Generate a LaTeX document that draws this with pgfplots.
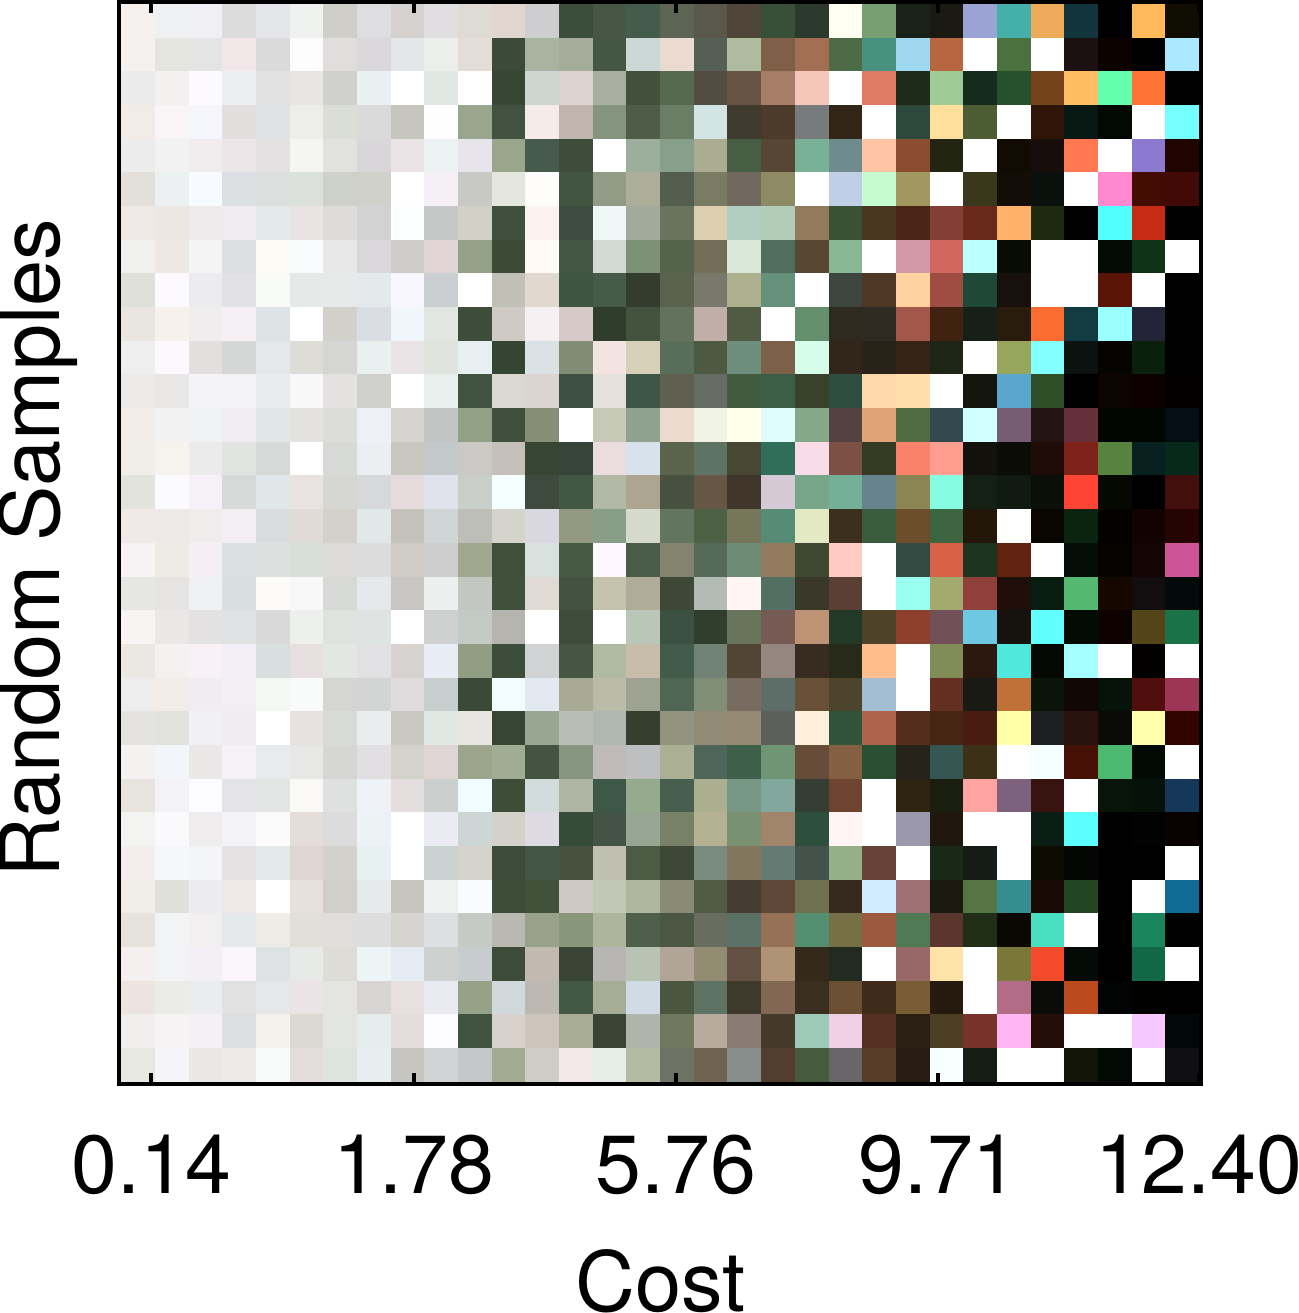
\documentclass[border=0pt]{standalone}
\usepackage{fontspec}
\setmainfont{TeX Gyre Heros}
\usepackage{pgfplots}
\pgfplotsset{compat=1.18}
\begin{document}
\begin{tikzpicture}
\useasboundingbox (-119.5bp,-229bp) rectangle (1179.5bp,1084bp);
\begin{axis}[
  at={(0,0)}, anchor=south west,
  scale only axis, width=1082bp, height=1082bp,
  xmin=-0.56, xmax=31.57, ymin=-0.56, ymax=31.56, y dir=reverse,
  axis line style={line width=4bp}, tick style={line width=4bp, black},
  major tick length=11bp, tick align=inside, xtick pos=both,
  xtick={0.39,8.19,15.97,23.76,31.5}, ytick=\empty,
  xticklabels={0.14,1.78,5.76,9.71,12.40},
  tick label style={font=\fontsize{82.5bp}{90bp}\selectfont},
  label style={font=\fontsize{83bp}{90bp}\selectfont},
  xticklabel shift=47bp, xlabel shift=48bp, ylabel shift=38bp,
  ylabel style={xshift=-5bp},
  xlabel={Cost}, ylabel={Random Samples},
  axis on top,
]
\addplot[matrix plot*, mesh/cols=32, mesh/color input=explicit, point meta=explicit symbolic]
 table[meta=c, row sep=\\] {x y c\\
0 0 HTML=F4F1EF\\1 0 HTML=EEF0F1\\2 0 HTML=F0EFF3\\3 0 HTML=DCDCDC\\4 0 HTML=E5E6E9\\5 0 HTML=F0F2EF\\6 0 HTML=CFCEC9\\7 0 HTML=DEDEE0\\8 0 HTML=D4D1CE\\9 0 HTML=E0DEE1\\10 0 HTML=DDDBD3\\11 0 HTML=E0D5CF\\12 0 HTML=CECDCF\\13 0 HTML=3B4E3B\\14 0 HTML=465843\\15 0 HTML=455C4C\\16 0 HTML=5C6553\\17 0 HTML=5A584B\\18 0 HTML=504539\\19 0 HTML=395038\\20 0 HTML=2C3A2E\\21 0 HTML=FFFFF2\\22 0 HTML=76A072\\23 0 HTML=1A2118\\24 0 HTML=1A1A12\\25 0 HTML=9BA3D5\\26 0 HTML=44B0A9\\27 0 HTML=EEAB5C\\28 0 HTML=12343C\\29 0 HTML=000000\\30 0 HTML=FFB95A\\31 0 HTML=100E02\\
0 1 HTML=F5F1EE\\1 1 HTML=E5E5E0\\2 1 HTML=E5E4E5\\3 1 HTML=F1E7E8\\4 1 HTML=DADADA\\5 1 HTML=FDFDFD\\6 1 HTML=DFDEDC\\7 1 HTML=DAD8DA\\8 1 HTML=E3E7EA\\9 1 HTML=EBEEEA\\10 1 HTML=E4DCD7\\11 1 HTML=3C4A38\\12 1 HTML=A8B4A0\\13 1 HTML=A5AD9A\\14 1 HTML=435742\\15 1 HTML=CBD8D6\\16 1 HTML=EBDAD0\\17 1 HTML=565F55\\18 1 HTML=B0BCA0\\19 1 HTML=7F5F48\\20 1 HTML=A26E54\\21 1 HTML=4E6B48\\22 1 HTML=48907F\\23 1 HTML=9FD7EE\\24 1 HTML=B8663F\\25 1 HTML=FFFFFF\\26 1 HTML=4B713E\\27 1 HTML=FFFFFF\\28 1 HTML=1B1110\\29 1 HTML=0C0300\\30 1 HTML=000000\\31 1 HTML=A9E8FF\\
0 2 HTML=EBEBEB\\1 2 HTML=F3F0F0\\2 2 HTML=FCFAFD\\3 2 HTML=EDEEF0\\4 2 HTML=E1E2E1\\5 2 HTML=E9E5E3\\6 2 HTML=D0D1CC\\7 2 HTML=E9F0F1\\8 2 HTML=FFFFFF\\9 2 HTML=E1E8E3\\10 2 HTML=FFFFFF\\11 2 HTML=364734\\12 2 HTML=CFD6D2\\13 2 HTML=DCD3D0\\14 2 HTML=A8AF9E\\15 2 HTML=43513C\\16 2 HTML=566A50\\17 2 HTML=524D40\\18 2 HTML=675244\\19 2 HTML=A67E68\\20 2 HTML=F7C6BB\\21 2 HTML=FFFFFF\\22 2 HTML=DE7A66\\23 2 HTML=1C2A17\\24 2 HTML=9ECC94\\25 2 HTML=152B1B\\26 2 HTML=27502D\\27 2 HTML=74431A\\28 2 HTML=FFBD62\\29 2 HTML=62FDAD\\30 2 HTML=FF7433\\31 2 HTML=000000\\
0 3 HTML=F2ECE9\\1 3 HTML=F9F5F6\\2 3 HTML=F5F6FB\\3 3 HTML=E2DEDD\\4 3 HTML=E1E2E6\\5 3 HTML=EDEEE9\\6 3 HTML=DBDDD7\\7 3 HTML=DADADA\\8 3 HTML=C6C6BF\\9 3 HTML=FEFDFF\\10 3 HTML=99A58C\\11 3 HTML=415340\\12 3 HTML=F5ECEA\\13 3 HTML=BFB5AE\\14 3 HTML=84947E\\15 3 HTML=4E5C48\\16 3 HTML=697E65\\17 3 HTML=D3E4E4\\18 3 HTML=403A2F\\19 3 HTML=4C3A2B\\20 3 HTML=777B7C\\21 3 HTML=332418\\22 3 HTML=FFFFFF\\23 3 HTML=2D483C\\24 3 HTML=FEE09C\\25 3 HTML=4C5D33\\26 3 HTML=FFFFFF\\27 3 HTML=2E1507\\28 3 HTML=071812\\29 3 HTML=020802\\30 3 HTML=FFFFFF\\31 3 HTML=76FFFF\\
0 4 HTML=ECECEC\\1 4 HTML=F2F2F2\\2 4 HTML=F0EBEC\\3 4 HTML=EDE6E8\\4 4 HTML=E3E1E2\\5 4 HTML=F5F5F3\\6 4 HTML=E1E2DD\\7 4 HTML=D8D6D8\\8 4 HTML=EBE4E6\\9 4 HTML=EBF2F1\\10 4 HTML=E7E5EB\\11 4 HTML=9AA68C\\12 4 HTML=475A4E\\13 4 HTML=404C3A\\14 4 HTML=FFFFFF\\15 4 HTML=9CAE9C\\16 4 HTML=88A08A\\17 4 HTML=ACAC92\\18 4 HTML=475E45\\19 4 HTML=574633\\20 4 HTML=78B098\\21 4 HTML=708B8D\\22 4 HTML=FFC4A4\\23 4 HTML=8B4C30\\24 4 HTML=232513\\25 4 HTML=FFFFFF\\26 4 HTML=120B04\\27 4 HTML=170D0B\\28 4 HTML=FF7851\\29 4 HTML=FFFFFF\\30 4 HTML=8B7AD0\\31 4 HTML=200400\\
0 5 HTML=E3E0DB\\1 5 HTML=ECF0F1\\2 5 HTML=F7FAFF\\3 5 HTML=DCE0E2\\4 5 HTML=DBE0DF\\5 5 HTML=DCE0DB\\6 5 HTML=CED0CA\\7 5 HTML=D1D1CC\\8 5 HTML=FFFFFF\\9 5 HTML=F5EFF6\\10 5 HTML=C8C9C4\\11 5 HTML=E4E6DE\\12 5 HTML=FFFDFB\\13 5 HTML=425540\\14 5 HTML=929B86\\15 5 HTML=ACAE99\\16 5 HTML=535E4E\\17 5 HTML=797C63\\18 5 HTML=71685E\\19 5 HTML=8D8A64\\20 5 HTML=FFFFFF\\21 5 HTML=C0CFE5\\22 5 HTML=C6FBCF\\23 5 HTML=A1985F\\24 5 HTML=FFFFFF\\25 5 HTML=3A371B\\26 5 HTML=140C06\\27 5 HTML=0A110D\\28 5 HTML=FFFFFF\\29 5 HTML=FF88CF\\30 5 HTML=430C03\\31 5 HTML=410A06\\
0 6 HTML=EEE9E6\\1 6 HTML=EDE7E2\\2 6 HTML=EEEBEC\\3 6 HTML=EEECF1\\4 6 HTML=E4E9EB\\5 6 HTML=E9E4E3\\6 6 HTML=DEDCD8\\7 6 HTML=D2D2D3\\8 6 HTML=FBFFFF\\9 6 HTML=C6C8C7\\10 6 HTML=D2D1C8\\11 6 HTML=3E4F3C\\12 6 HTML=FCF3F1\\13 6 HTML=3E4C41\\14 6 HTML=EFF8F7\\15 6 HTML=A1AA9B\\16 6 HTML=68745E\\17 6 HTML=DBCFB0\\18 6 HTML=B2CDC2\\19 6 HTML=B1CDB7\\20 6 HTML=917B5A\\21 6 HTML=3A5133\\22 6 HTML=483621\\23 6 HTML=4A2619\\24 6 HTML=833F33\\25 6 HTML=692A1B\\26 6 HTML=FFB169\\27 6 HTML=1F2811\\28 6 HTML=000000\\29 6 HTML=52FFFF\\30 6 HTML=C62B16\\31 6 HTML=000000\\
0 7 HTML=F0F0EE\\1 7 HTML=EEE8E2\\2 7 HTML=F4F4F5\\3 7 HTML=DBDFE2\\4 7 HTML=FCFBF6\\5 7 HTML=F8FCFC\\6 7 HTML=E8E8E9\\7 7 HTML=D9D7DA\\8 7 HTML=CDCCC9\\9 7 HTML=E1D6D5\\10 7 HTML=96A189\\11 7 HTML=3D4A36\\12 7 HTML=FFFAF6\\13 7 HTML=445744\\14 7 HTML=D2DAD3\\15 7 HTML=7D9176\\16 7 HTML=53634C\\17 7 HTML=736C57\\18 7 HTML=D9E8D8\\19 7 HTML=516D5E\\20 7 HTML=584733\\21 7 HTML=88B896\\22 7 HTML=FFFFFF\\23 7 HTML=D198AA\\24 7 HTML=D1675E\\25 7 HTML=BCFFFF\\26 7 HTML=090C05\\27 7 HTML=FFFFFF\\28 7 HTML=FFFFFF\\29 7 HTML=040B05\\30 7 HTML=0F3317\\31 7 HTML=FFFFFF\\
0 8 HTML=E0E0DB\\1 8 HTML=FCFAFF\\2 8 HTML=ECECEE\\3 8 HTML=E2E2E5\\4 8 HTML=F8FAF8\\5 8 HTML=E5E9E7\\6 8 HTML=E7EAE8\\7 8 HTML=E4E9EC\\8 8 HTML=F8F6FF\\9 8 HTML=CBCFD1\\10 8 HTML=FFFFFF\\11 8 HTML=C0C0B6\\12 8 HTML=E1D8D0\\13 8 HTML=3E5541\\14 8 HTML=465C49\\15 8 HTML=343D2D\\16 8 HTML=5A624D\\17 8 HTML=78786B\\18 8 HTML=ACB08C\\19 8 HTML=65917A\\20 8 HTML=FFFFFF\\21 8 HTML=3C463E\\22 8 HTML=4F3726\\23 8 HTML=FFD3A0\\24 8 HTML=9E4B42\\25 8 HTML=1E4838\\26 8 HTML=17100D\\27 8 HTML=FFFFFF\\28 8 HTML=FFFFFF\\29 8 HTML=591405\\30 8 HTML=FFFFFF\\31 8 HTML=000000\\
0 9 HTML=E9E5E1\\1 9 HTML=F6F1EC\\2 9 HTML=EFEDEE\\3 9 HTML=F5F0F4\\4 9 HTML=DDE3E5\\5 9 HTML=FFFFFF\\6 9 HTML=D1D0CB\\7 9 HTML=DADDE1\\8 9 HTML=F0F6FC\\9 9 HTML=E2E6E0\\10 9 HTML=3D4D3A\\11 9 HTML=CFCBC4\\12 9 HTML=F6F0F3\\13 9 HTML=D6C9C8\\14 9 HTML=303C2C\\15 9 HTML=44533E\\16 9 HTML=63725C\\17 9 HTML=C2AEA8\\18 9 HTML=515A42\\19 9 HTML=FFFFFF\\20 9 HTML=64906E\\21 9 HTML=2F2A20\\22 9 HTML=2F2B22\\23 9 HTML=A3574B\\24 9 HTML=41210F\\25 9 HTML=172018\\26 9 HTML=291C0C\\27 9 HTML=FA6C30\\28 9 HTML=123B42\\29 9 HTML=9AFFFF\\30 9 HTML=232437\\31 9 HTML=000000\\
0 10 HTML=EFEFEF\\1 10 HTML=FDF8FD\\2 10 HTML=E3DFDF\\3 10 HTML=D5D7D6\\4 10 HTML=E4E8EA\\5 10 HTML=DDDCD6\\6 10 HTML=D5D5D3\\7 10 HTML=EAF0F0\\8 10 HTML=EAE4E7\\9 10 HTML=DFE4DE\\10 10 HTML=E8EFF1\\11 10 HTML=344632\\12 10 HTML=DBE2E5\\13 10 HTML=818C76\\14 10 HTML=F3E4E1\\15 10 HTML=D6D0B8\\16 10 HTML=596E58\\17 10 HTML=4D5940\\18 10 HTML=6C8E7A\\19 10 HTML=7C6148\\20 10 HTML=D6FDEA\\21 10 HTML=32261A\\22 10 HTML=282218\\23 10 HTML=352415\\24 10 HTML=1D2616\\25 10 HTML=FFFFFF\\26 10 HTML=97A65C\\27 10 HTML=84FFFF\\28 10 HTML=0B1210\\29 10 HTML=050401\\30 10 HTML=0B200C\\31 10 HTML=000000\\
0 11 HTML=EBEAE8\\1 11 HTML=E8E7E5\\2 11 HTML=F4F3F6\\3 11 HTML=F2F2F7\\4 11 HTML=E7EBEE\\5 11 HTML=F8F8F8\\6 11 HTML=E3E2E0\\7 11 HTML=CFD0CB\\8 11 HTML=FFFFFF\\9 11 HTML=E8F0ED\\10 11 HTML=405240\\11 11 HTML=DBD7D1\\12 11 HTML=DCD4CF\\13 11 HTML=3C4F42\\14 11 HTML=E5E1DA\\15 11 HTML=3E5646\\16 11 HTML=5F6050\\17 11 HTML=666C63\\18 11 HTML=425B40\\19 11 HTML=3C5E46\\20 11 HTML=38412B\\21 11 HTML=304E40\\22 11 HTML=FFD7A8\\23 11 HTML=FFDEAB\\24 11 HTML=FFFFFF\\25 11 HTML=14150C\\26 11 HTML=5AA6CD\\27 11 HTML=2F4F29\\28 11 HTML=000000\\29 11 HTML=0C0400\\30 11 HTML=0C0100\\31 11 HTML=040000\\
0 12 HTML=F1ECE7\\1 12 HTML=F3F2F3\\2 12 HTML=EFF3F6\\3 12 HTML=F1EDF3\\4 12 HTML=E1E6E8\\5 12 HTML=E3E2DF\\6 12 HTML=DCDCD8\\7 12 HTML=EDF0F6\\8 12 HTML=D6D3D1\\9 12 HTML=C1C5C3\\10 12 HTML=92A186\\11 12 HTML=3F503C\\12 12 HTML=878E76\\13 12 HTML=FFFFFF\\14 12 HTML=C6C9B5\\15 12 HTML=8FA28D\\16 12 HTML=EBDACD\\17 12 HTML=F0F2E3\\18 12 HTML=FFFFE9\\19 12 HTML=DFFBFB\\20 12 HTML=85A888\\21 12 HTML=53423F\\22 12 HTML=E0A378\\23 12 HTML=516B42\\24 12 HTML=34494E\\25 12 HTML=D2FFFF\\26 12 HTML=765D73\\27 12 HTML=241412\\28 12 HTML=653039\\29 12 HTML=030502\\30 12 HTML=020603\\31 12 HTML=060E15\\
0 13 HTML=F1EDE8\\1 13 HTML=F6F2EC\\2 13 HTML=EBEBEC\\3 13 HTML=E2E4E2\\4 13 HTML=D7D9D8\\5 13 HTML=FFFFFF\\6 13 HTML=D7D9D6\\7 13 HTML=EBEFF2\\8 13 HTML=C9C5BF\\9 13 HTML=C4C9CC\\10 13 HTML=CCC8C6\\11 13 HTML=C5C0BA\\12 13 HTML=374633\\13 13 HTML=36443A\\14 13 HTML=EBDCDD\\15 13 HTML=D8E2EC\\16 13 HTML=5A634C\\17 13 HTML=5E7364\\18 13 HTML=474833\\19 13 HTML=316E59\\20 13 HTML=F8DDE9\\21 13 HTML=7C5045\\22 13 HTML=353A23\\23 13 HTML=FA826B\\24 13 HTML=FF9E8E\\25 13 HTML=12110B\\26 13 HTML=0A0C05\\27 13 HTML=1F0B08\\28 13 HTML=7F231A\\29 13 HTML=578240\\30 13 HTML=082020\\31 13 HTML=062919\\
0 14 HTML=E3E3DE\\1 14 HTML=FBFAFF\\2 14 HTML=F5F1F7\\3 14 HTML=D5D9D8\\4 14 HTML=E0E7E9\\5 14 HTML=E8E3E0\\6 14 HTML=D6D7D2\\7 14 HTML=D7D8DA\\8 14 HTML=E6DCDD\\9 14 HTML=E0E3EB\\10 14 HTML=CACEC8\\11 14 HTML=F6FFFF\\12 14 HTML=3F4A3F\\13 14 HTML=425843\\14 14 HTML=B2B8A6\\15 14 HTML=ACA691\\16 14 HTML=485040\\17 14 HTML=675645\\18 14 HTML=40362A\\19 14 HTML=D4C9D4\\20 14 HTML=78A688\\21 14 HTML=74B098\\22 14 HTML=66838E\\23 14 HTML=8B8554\\24 14 HTML=85FBE2\\25 14 HTML=142013\\26 14 HTML=101A12\\27 14 HTML=0A0F07\\28 14 HTML=FF4335\\29 14 HTML=060802\\30 14 HTML=000000\\31 14 HTML=420F0D\\
0 15 HTML=EFEAE8\\1 15 HTML=ECE9E7\\2 15 HTML=F1ECEC\\3 15 HTML=F2EEF2\\4 15 HTML=D8DCDD\\5 15 HTML=E0DBD7\\6 15 HTML=D3D1C9\\7 15 HTML=E1E9E8\\8 15 HTML=C5C2BC\\9 15 HTML=D0D5D5\\10 15 HTML=BDBEB8\\11 15 HTML=D4D4CC\\12 15 HTML=D9D7DF\\13 15 HTML=939A80\\14 15 HTML=899E87\\15 15 HTML=D5DACD\\16 15 HTML=62765F\\17 15 HTML=4B6045\\18 15 HTML=747559\\19 15 HTML=568C75\\20 15 HTML=E3E9C3\\21 15 HTML=3C2F1E\\22 15 HTML=3B5C3C\\23 15 HTML=6D4E2A\\24 15 HTML=3D6640\\25 15 HTML=23170A\\26 15 HTML=FFFFFF\\27 15 HTML=090602\\28 15 HTML=0B2410\\29 15 HTML=040200\\30 15 HTML=120200\\31 15 HTML=260402\\
0 16 HTML=F7F2F3\\1 16 HTML=EEEBE5\\2 16 HTML=F5EFF3\\3 16 HTML=DBE0E1\\4 16 HTML=DDE0DE\\5 16 HTML=D8DFDA\\6 16 HTML=DCDBD7\\7 16 HTML=DCDCDC\\8 16 HTML=CFCCC6\\9 16 HTML=CDCECD\\10 16 HTML=A1A88F\\11 16 HTML=3E4F3A\\12 16 HTML=D9E1DF\\13 16 HTML=465943\\14 16 HTML=FDF6FF\\15 16 HTML=485C47\\16 16 HTML=848370\\17 16 HTML=566A5A\\18 16 HTML=6E8C75\\19 16 HTML=927A5E\\20 16 HTML=3F4830\\21 16 HTML=FFCBC3\\22 16 HTML=FFFFFF\\23 16 HTML=324A41\\24 16 HTML=D76246\\25 16 HTML=1C3420\\26 16 HTML=5F2310\\27 16 HTML=FFFFFF\\28 16 HTML=040D08\\29 16 HTML=050200\\30 16 HTML=140403\\31 16 HTML=CE5498\\
0 17 HTML=E6E7E2\\1 17 HTML=E5E4E2\\2 17 HTML=EFF1F4\\3 17 HTML=D9DFDF\\4 17 HTML=FCFBF7\\5 17 HTML=F8F8F8\\6 17 HTML=D7D9D6\\7 17 HTML=E5E9EC\\8 17 HTML=C8C6C2\\9 17 HTML=EBEFEE\\10 17 HTML=C2C7C2\\11 17 HTML=40513B\\12 17 HTML=E0D9D4\\13 17 HTML=44533F\\14 17 HTML=C5C2AE\\15 17 HTML=AFAC9A\\16 17 HTML=3E4836\\17 17 HTML=B3BCB4\\18 17 HTML=FFF5F5\\19 17 HTML=536E63\\20 17 HTML=3A3828\\21 17 HTML=5A3F34\\22 17 HTML=FFFFFF\\23 17 HTML=9AFFEF\\24 17 HTML=A3AA6E\\25 17 HTML=903F3A\\26 17 HTML=1F0E09\\27 17 HTML=091C10\\28 17 HTML=55B870\\29 17 HTML=160800\\30 17 HTML=120D0E\\31 17 HTML=030A09\\
0 18 HTML=F8F4F4\\1 18 HTML=E9E8E6\\2 18 HTML=E3E1E2\\3 18 HTML=DEE2E3\\4 18 HTML=D9D9D9\\5 18 HTML=EEF0ED\\6 18 HTML=E0E2DE\\7 18 HTML=DFE3E2\\8 18 HTML=FFFFFF\\9 18 HTML=CFD1D0\\10 18 HTML=C4CAC5\\11 18 HTML=B5B4AE\\12 18 HTML=FFFFFF\\13 18 HTML=3D4B38\\14 18 HTML=FFFFFF\\15 18 HTML=BAC6B8\\16 18 HTML=3B5141\\17 18 HTML=323E2D\\18 18 HTML=68755A\\19 18 HTML=765B54\\20 18 HTML=BD9275\\21 18 HTML=233927\\22 18 HTML=4E4228\\23 18 HTML=8C402D\\24 18 HTML=715157\\25 18 HTML=6EC8E2\\26 18 HTML=16120E\\27 18 HTML=62FFFF\\28 18 HTML=040B05\\29 18 HTML=0D0200\\30 18 HTML=544518\\31 18 HTML=197346\\
0 19 HTML=EBE7E3\\1 19 HTML=F5F1F0\\2 19 HTML=F8F2F7\\3 19 HTML=F2F0F6\\4 19 HTML=D9DFDE\\5 19 HTML=E8E0E0\\6 19 HTML=E2E7E3\\7 19 HTML=E1E1E4\\8 19 HTML=D6D3D0\\9 19 HTML=E8ECF5\\10 19 HTML=929E84\\11 19 HTML=3C4D3A\\12 19 HTML=D1D2D4\\13 19 HTML=465541\\14 19 HTML=B0BAA3\\15 19 HTML=C8BCAB\\16 19 HTML=435B4A\\17 19 HTML=718374\\18 19 HTML=524535\\19 19 HTML=958680\\20 19 HTML=382B20\\21 19 HTML=272919\\22 19 HTML=FFBC8C\\23 19 HTML=FFFFFF\\24 19 HTML=828C56\\25 19 HTML=2D1810\\26 19 HTML=50E8DC\\27 19 HTML=060804\\28 19 HTML=A5FFFF\\29 19 HTML=FFFFFF\\30 19 HTML=020100\\31 19 HTML=FFFFFF\\
0 20 HTML=EDEDED\\1 20 HTML=F1ECE7\\2 20 HTML=F0EDF1\\3 20 HTML=F3EEF2\\4 20 HTML=F5F7F2\\5 20 HTML=F9FBFA\\6 20 HTML=D5D6D1\\7 20 HTML=D3D5D4\\8 20 HTML=E0DCDE\\9 20 HTML=C6CFCE\\10 20 HTML=3A4A37\\11 20 HTML=F2FCFF\\12 20 HTML=E2E9F1\\13 20 HTML=A8AA95\\14 20 HTML=BABCA9\\15 20 HTML=9EA291\\16 20 HTML=4F6655\\17 20 HTML=7F8E74\\18 20 HTML=7A6B60\\19 20 HTML=5D6E69\\20 20 HTML=685036\\21 20 HTML=4C442C\\22 20 HTML=A4BDD1\\23 20 HTML=FFFFFF\\24 20 HTML=632F20\\25 20 HTML=191A14\\26 20 HTML=C07138\\27 20 HTML=0B1408\\28 20 HTML=110806\\29 20 HTML=071208\\30 20 HTML=4F0F0C\\31 20 HTML=9D3656\\
0 21 HTML=E4E3DF\\1 21 HTML=E2E2DD\\2 21 HTML=F1F1F5\\3 21 HTML=F0ECF0\\4 21 HTML=FFFFFF\\5 21 HTML=E8E1E0\\6 21 HTML=D8DBD8\\7 21 HTML=EBECEE\\8 21 HTML=C9C8C3\\9 21 HTML=DFE8E3\\10 21 HTML=E8E6E1\\11 21 HTML=364632\\12 21 HTML=99A792\\13 21 HTML=BABDB5\\14 21 HTML=AEB7B0\\15 21 HTML=353F2E\\16 21 HTML=929480\\17 21 HTML=918A74\\18 21 HTML=958A74\\19 21 HTML=5C5F59\\20 21 HTML=FFF0DC\\21 21 HTML=30533A\\22 21 HTML=AE634B\\23 21 HTML=552D1E\\24 21 HTML=472515\\25 21 HTML=481C10\\26 21 HTML=FFFFA8\\27 21 HTML=1D1F21\\28 21 HTML=2A120E\\29 21 HTML=0A0A08\\30 21 HTML=FFFFAC\\31 21 HTML=300500\\
0 22 HTML=F3F2F0\\1 22 HTML=F2F6FB\\2 22 HTML=E9E8E6\\3 22 HTML=F5F1F5\\4 22 HTML=E8EBEE\\5 22 HTML=E7E8E6\\6 22 HTML=D6D6D4\\7 22 HTML=E1DFE2\\8 22 HTML=D3D2CD\\9 22 HTML=DFD5D4\\10 22 HTML=9CA58C\\11 22 HTML=A0AC94\\12 22 HTML=435440\\13 22 HTML=879680\\14 22 HTML=C0BAB8\\15 22 HTML=BEBFC1\\16 22 HTML=ABB095\\17 22 HTML=50655A\\18 22 HTML=3E604B\\19 22 HTML=6F9575\\20 22 HTML=684C3A\\21 22 HTML=845F42\\22 22 HTML=2A5033\\23 22 HTML=26231A\\24 22 HTML=345753\\25 22 HTML=3C3018\\26 22 HTML=FFFFFF\\27 22 HTML=F5FFFF\\28 22 HTML=461208\\29 22 HTML=4BB96F\\30 22 HTML=030A05\\31 22 HTML=FFFFFF\\
0 23 HTML=E7E3DF\\1 23 HTML=F3F3F7\\2 23 HTML=FCFBFF\\3 23 HTML=E4E4E6\\4 23 HTML=E3E4E4\\5 23 HTML=FAF9F5\\6 23 HTML=DEE1E0\\7 23 HTML=EFF3F7\\8 23 HTML=E5DEDE\\9 23 HTML=CBCFCD\\10 23 HTML=F1FCFF\\11 23 HTML=3D4D38\\12 23 HTML=D3DCDC\\13 23 HTML=AFB5A2\\14 23 HTML=3E5848\\15 23 HTML=96AA8E\\16 23 HTML=485F50\\17 23 HTML=ACAE90\\18 23 HTML=769884\\19 23 HTML=82A89E\\20 23 HTML=353E33\\21 23 HTML=6E4330\\22 23 HTML=FFFFFF\\23 23 HTML=2F2412\\24 23 HTML=1A1E0E\\25 23 HTML=FFA4A0\\26 23 HTML=7E617D\\27 23 HTML=37140F\\28 23 HTML=FFFFFF\\29 23 HTML=081409\\30 23 HTML=051109\\31 23 HTML=14375A\\
0 24 HTML=F3F3F1\\1 24 HTML=FAFAFC\\2 24 HTML=EEECEC\\3 24 HTML=F4F3F8\\4 24 HTML=FBFBFB\\5 24 HTML=E5DDD8\\6 24 HTML=DCDCDC\\7 24 HTML=EDF2F5\\8 24 HTML=FFFFFF\\9 24 HTML=EBEBF4\\10 24 HTML=CDD6D4\\11 24 HTML=D4D1CA\\12 24 HTML=DEDAE3\\13 24 HTML=374C38\\14 24 HTML=435346\\15 24 HTML=96A693\\16 24 HTML=768168\\17 24 HTML=B5B294\\18 24 HTML=799170\\19 24 HTML=A1846A\\20 24 HTML=2D503C\\21 24 HTML=FFF4F6\\22 24 HTML=FFFFFF\\23 24 HTML=9A98AA\\24 24 HTML=20180E\\25 24 HTML=FFFFFF\\26 24 HTML=FFFFFF\\27 24 HTML=0B1E15\\28 24 HTML=5CFFFF\\29 24 HTML=000000\\30 24 HTML=020202\\31 24 HTML=0A0200\\
0 25 HTML=F3EDED\\1 25 HTML=F5F7FA\\2 25 HTML=F4F5F9\\3 25 HTML=E5E2E3\\4 25 HTML=E4E9EA\\5 25 HTML=DFD6D3\\6 25 HTML=D2D1CC\\7 25 HTML=E8F1F2\\8 25 HTML=FFFFFF\\9 25 HTML=CBD3D2\\10 25 HTML=D4D4CC\\11 25 HTML=3C4C38\\12 25 HTML=435645\\13 25 HTML=46523E\\14 25 HTML=BFC0B0\\15 25 HTML=4C5B44\\16 25 HTML=3D4936\\17 25 HTML=788B7E\\18 25 HTML=82765E\\19 25 HTML=647A72\\20 25 HTML=43524B\\21 25 HTML=93B089\\22 25 HTML=664238\\23 25 HTML=FFFFFF\\24 25 HTML=182A17\\25 25 HTML=151B15\\26 25 HTML=FFFFFF\\27 25 HTML=0D0C02\\28 25 HTML=040604\\29 25 HTML=000000\\30 25 HTML=000000\\31 25 HTML=FFFFFF\\
0 26 HTML=F1EDE8\\1 26 HTML=E0E0DA\\2 26 HTML=ECEBEF\\3 26 HTML=EEE8E8\\4 26 HTML=FFFFFF\\5 26 HTML=E8E0DD\\6 26 HTML=D0CFC9\\7 26 HTML=E7EAEA\\8 26 HTML=C8C5BF\\9 26 HTML=EDF2F1\\10 26 HTML=F8FCFF\\11 26 HTML=3D4D38\\12 26 HTML=405239\\13 26 HTML=D0C8C5\\14 26 HTML=C2C8B6\\15 26 HTML=AFB89E\\16 26 HTML=8A8B74\\17 26 HTML=525C45\\18 26 HTML=453C32\\19 26 HTML=5F4838\\20 26 HTML=6F704D\\21 26 HTML=362A1E\\22 26 HTML=D2ECFF\\23 26 HTML=9E7072\\24 26 HTML=1A1A10\\25 26 HTML=557643\\26 26 HTML=348E90\\27 26 HTML=1A0A06\\28 26 HTML=234522\\29 26 HTML=000000\\30 26 HTML=FFFFFF\\31 26 HTML=106C95\\
0 27 HTML=E6E3DF\\1 27 HTML=F1F3F4\\2 27 HTML=F1EFEF\\3 27 HTML=E4E8EB\\4 27 HTML=EDECE6\\5 27 HTML=E2DFDB\\6 27 HTML=DFDEDA\\7 27 HTML=DDDDDD\\8 27 HTML=D5D4D1\\9 27 HTML=DCE0E2\\10 27 HTML=C5CAC4\\11 27 HTML=B9B9B1\\12 27 HTML=9AA18B\\13 27 HTML=889679\\14 27 HTML=AEB59D\\15 27 HTML=4E5F4C\\16 27 HTML=4C5743\\17 27 HTML=686D60\\18 27 HTML=5C7165\\19 27 HTML=977156\\20 27 HTML=558F72\\21 27 HTML=767047\\22 27 HTML=9C593E\\23 27 HTML=4F7A53\\24 27 HTML=5B362F\\25 27 HTML=202D17\\26 27 HTML=0A0802\\27 27 HTML=48E0C0\\28 27 HTML=FFFFFF\\29 27 HTML=000000\\30 27 HTML=18855C\\31 27 HTML=000000\\
0 28 HTML=F4F0EF\\1 28 HTML=F1F3F4\\2 28 HTML=F2F0F5\\3 28 HTML=FAF6FC\\4 28 HTML=DFE2E2\\5 28 HTML=E8EAE8\\6 28 HTML=DDDCD6\\7 28 HTML=ECF4F5\\8 28 HTML=E4EBF2\\9 28 HTML=CFD1D0\\10 28 HTML=C7CCCE\\11 28 HTML=3C4C38\\12 28 HTML=C2B9B0\\13 28 HTML=3A4434\\14 28 HTML=B8B6B4\\15 28 HTML=B8C3B4\\16 28 HTML=B0A596\\17 28 HTML=928C72\\18 28 HTML=645042\\19 28 HTML=B09274\\20 28 HTML=342A1C\\21 28 HTML=222B20\\22 28 HTML=FFFFFF\\23 28 HTML=986868\\24 28 HTML=FDE3A8\\25 28 HTML=FFFFFF\\26 28 HTML=7A7838\\27 28 HTML=F34B2C\\28 28 HTML=040B06\\29 28 HTML=000000\\30 28 HTML=126747\\31 28 HTML=FFFFFF\\
0 29 HTML=EDE4E2\\1 29 HTML=EBEBE7\\2 29 HTML=EBECEE\\3 29 HTML=E1E1E1\\4 29 HTML=E6E7E9\\5 29 HTML=EBE3E5\\6 29 HTML=E4E5E0\\7 29 HTML=D8D4D4\\8 29 HTML=E9E0E2\\9 29 HTML=E9EAF0\\10 29 HTML=96A288\\11 29 HTML=D1D9DC\\12 29 HTML=BDB8B2\\13 29 HTML=435845\\14 29 HTML=A6AC96\\15 29 HTML=D0DBE6\\16 29 HTML=4B5640\\17 29 HTML=5E7364\\18 29 HTML=3F392C\\19 29 HTML=826852\\20 29 HTML=3A2E20\\21 29 HTML=6C4E34\\22 29 HTML=3F2B1A\\23 29 HTML=7A5C34\\24 29 HTML=241A0E\\25 29 HTML=FFFFFF\\26 29 HTML=B26C86\\27 29 HTML=0B0C08\\28 29 HTML=BB4A1E\\29 29 HTML=020303\\30 29 HTML=010100\\31 29 HTML=000000\\
0 30 HTML=F0EFED\\1 30 HTML=F5F3F3\\2 30 HTML=F4F0F4\\3 30 HTML=DDDEE0\\4 30 HTML=F5F1ED\\5 30 HTML=DCD9D3\\6 30 HTML=E3E5E0\\7 30 HTML=E5ECEC\\8 30 HTML=E5DDDC\\9 30 HTML=FCFCFF\\10 30 HTML=40533E\\11 30 HTML=D7D0CB\\12 30 HTML=CDC5BC\\13 30 HTML=A8AC92\\14 30 HTML=3A4434\\15 30 HTML=B0B5AC\\16 30 HTML=6F775F\\17 30 HTML=B8AA9C\\18 30 HTML=8A7C72\\19 30 HTML=44392A\\20 30 HTML=9CCAB6\\21 30 HTML=EFCFE4\\22 30 HTML=573024\\23 30 HTML=2A1F12\\24 30 HTML=4D3F23\\25 30 HTML=77322A\\26 30 HTML=FFB6F2\\27 30 HTML=260E08\\28 30 HTML=FFFFFF\\29 30 HTML=FFFFFF\\30 30 HTML=F5C8FF\\31 30 HTML=020708\\
0 31 HTML=E8E8E3\\1 31 HTML=F5F5F9\\2 31 HTML=E9E8E6\\3 31 HTML=EBEAE8\\4 31 HTML=F6FAF9\\5 31 HTML=E4DCDC\\6 31 HTML=DDE3DF\\7 31 HTML=E6EEEF\\8 31 HTML=C6C5BF\\9 31 HTML=CFD3D4\\10 31 HTML=C3C7C7\\11 31 HTML=A3AB92\\12 31 HTML=CFCCC5\\13 31 HTML=F3E9E8\\14 31 HTML=E6EDE6\\15 31 HTML=B5BAA3\\16 31 HTML=6C7264\\17 31 HTML=716352\\18 31 HTML=868F8C\\19 31 HTML=533E2E\\20 31 HTML=465B3B\\21 31 HTML=686668\\22 31 HTML=573E28\\23 31 HTML=281C12\\24 31 HTML=F8FFFF\\25 31 HTML=141E15\\26 31 HTML=FFFFFF\\27 31 HTML=FFFFFF\\28 31 HTML=121507\\29 31 HTML=020804\\30 31 HTML=FFFFFF\\31 31 HTML=0F0F14\\
};
\end{axis}
\end{tikzpicture}
\end{document}
